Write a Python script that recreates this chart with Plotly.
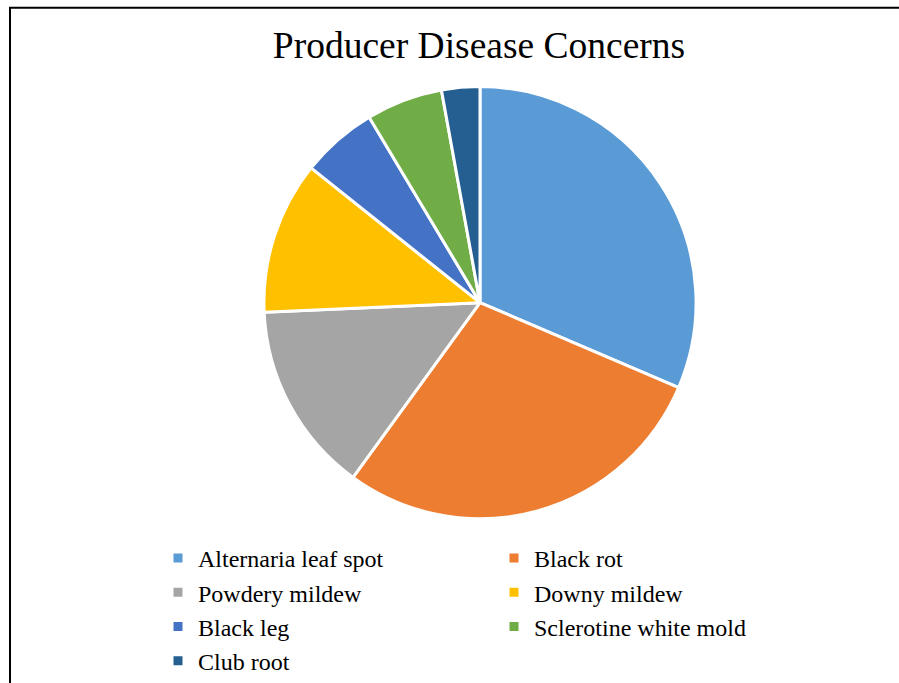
import plotly.graph_objects as go

categories = ["Alternaria leaf spot", "Black rot", "Powdery mildew", "Downy mildew",
              "Black leg", "Sclerotine white mold", "Club root"]
counts = [11, 10, 5, 4, 2, 2, 1]
colors = ["#5B9BD5", "#ED7D31", "#A5A5A5", "#FFC000", "#4472C4", "#70AD47", "#255E91"]

W, H = 899, 683
cx, top, half = 480, 88, 219.6

fig = go.Figure(go.Pie(
    labels=categories,
    values=counts,
    sort=False,
    direction="clockwise",
    rotation=0,
    textinfo="none",
    hoverinfo="label+value+percent",
    marker=dict(colors=colors, line=dict(color="white", width=3)),
    domain=dict(x=[(cx - half) / W, (cx + half) / W],
                y=[1 - (top + 2 * half) / H, 1 - top / H]),
))

fig.update_layout(
    width=W, height=H,
    margin=dict(l=0, r=0, t=0, b=0),
    paper_bgcolor="white",
    font=dict(family="Liberation Serif", color="black"),
    title=dict(text="Producer Disease Concerns", x=479 / W, xanchor="center",
               y=1 - 45 / H, yanchor="middle",
               font=dict(family="Liberation Serif", size=37.5, color="black")),
    legend=dict(orientation="h", x=158 / W, xanchor="left", y=1 - 545 / H, yanchor="top",
                entrywidth=291, entrywidthmode="pixels",
                font=dict(family="Liberation Serif", size=24, color="black"),
                itemclick=False, traceorder="normal"),
    shapes=[dict(type="rect", xref="paper", yref="paper",
                 x0=10 / W, x1=1.05, y0=-0.05, y1=1 - 8 / H,
                 line=dict(color="black", width=2), fillcolor="rgba(0,0,0,0)")],
)

fig.write_html("out.html", config={"displayModeBar": False},
               post_script="document.body.style.margin='0';document.body.style.overflow='hidden';")
